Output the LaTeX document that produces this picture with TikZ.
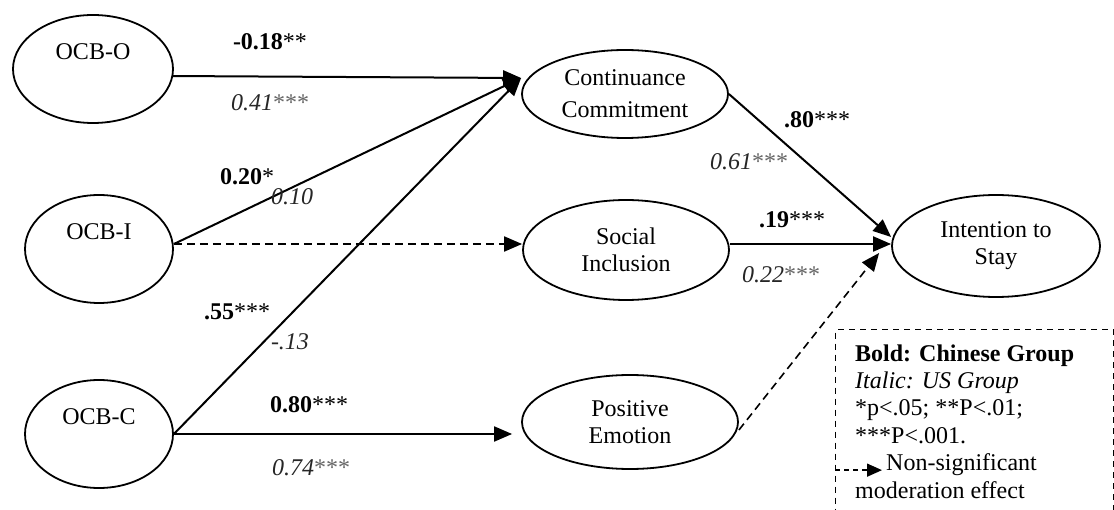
\documentclass[tikz,border=0pt]{standalone}
\usepackage{fontspec}
\setmainfont{Liberation Serif}
\usetikzlibrary{arrows.meta,calc,shapes.geometric}
\begin{document}
\begin{tikzpicture}[x=1pt,y=-1pt,
  every node/.style={font=\fontsize{24}{27}\selectfont},
  var/.style={draw, ellipse, line width=1.8pt, inner sep=0pt, align=center},
  arr/.style={line width=2pt, -{Triangle[length=18pt,width=15pt]}},
  darr/.style={arr, dash pattern=on 8pt off 5pt},
  lb/.style={font=\fontsize{24}{27}\selectfont\bfseries, inner sep=0pt},
  li/.style={font=\fontsize{24}{27}\selectfont\itshape, text=black!85, inner sep=0pt},
  lgt/.style={anchor=base west, inner sep=0pt},
  legbox/.style={draw, line width=1.4pt, dash pattern=on 6pt off 5pt, inner sep=0pt}
]
\useasboundingbox (0,0) rectangle (1114,510);

% variables
\node[var, minimum width=160pt, minimum height=108pt] (oo) at (93,69) {OCB-O\\\strut};
\node[var, minimum width=148pt, minimum height=108pt] (oi) at (99,249) {OCB-I\\\strut};
\node[var, minimum width=148pt, minimum height=108pt] (oc) at (99,434) {OCB-C\\\strut};
\node[var, minimum width=206pt, minimum height=88pt, font=\fontsize{24}{32}\selectfont] (cc) at (625,94) {Continuance\\Commitment};
\node[var, minimum width=206pt, minimum height=100pt] (si) at (626,250) {Social\\Inclusion};
\node[var, minimum width=216pt, minimum height=94pt] (pe) at (630,422) {Positive\\Emotion};
\node[var, minimum width=208pt, minimum height=102pt] (is) at (996,246) {Intention to\\Stay};

% connectors
\draw[arr] (oo.-5) -- ([yshift=16pt]cc.west);
\draw[arr] ([yshift=5pt]oi.east) -- ([yshift=16pt]cc.west);
\draw[arr] (oc.east) -- ([yshift=16pt]cc.west);
\draw[darr] ([yshift=5pt]oi.east) -- ([yshift=5pt]oi.east -| si.west);
\draw[arr, shorten >=9pt] (oc.east) -- (oc.east -| pe.west);
\draw[arr] (cc.east) -- ([yshift=9pt]is.west);
\draw[arr] ([yshift=6pt]si.east) -- ([yshift=6pt]si.east -| is.west);
\draw[darr, line width=1.6pt] ([yshift=-8pt]pe.east) -- ($(is.west)+(-12,7)$);

% coefficient labels
\node[lb] (b1) at (270,42) {-0.18{\mdseries**}};
\node[li] (i1) at (270,103) {0.41{\upshape\color{black!60}***}};
\node[lb] (b2) at (247,177) {0.20{\mdseries*}};
\node[li] (i2) at (292,197) {0.10};
\node[lb] (b3) at (237,312) {.55{\mdseries***}};
\node[li] (i3) at (290,342) {-.13};
\node[lb] (b4) at (309,405) {0.80{\mdseries***}};
\node[li] (i4) at (311,468) {0.74{\upshape\color{black!60}***}};
\node[lb] (b5) at (817,120) {.80{\mdseries***}};
\node[li] (i5) at (749,162) {0.61{\upshape\color{black!60}***}};
\node[lb] (b6) at (792,220) {.19{\mdseries***}};
\node[li] (i6) at (781,275) {0.22{\upshape\color{black!60}***}};

% legend
\node[legbox, minimum width=278pt, minimum height=200pt, anchor=north west] (leg) at (835,329) {};
\node[lgt, font=\fontsize{24}{27}\selectfont\bfseries] (l1) at (855,362) {Bold: Chinese Group};
\node[lgt, font=\fontsize{24}{27}\selectfont\itshape] (l2) at (855,389) {Italic: US Group};
\node[lgt] (l3) at (855,416) {*p<.05; **P<.01;};
\node[lgt] (l4) at (855,443) {***P<.001.};
\node[lgt] (l5) at (886,471) {Non-significant};
\node[lgt] (l6) at (855,498) {moderation effect};
\coordinate (la) at ([xshift=-4pt,yshift=-5pt]l5.west);
\draw[line width=1.5pt, dash pattern=on 5pt off 4pt, -{Triangle[length=15pt,width=13pt]}] (leg.west |- la) -- (la);
\end{tikzpicture}
\end{document}
